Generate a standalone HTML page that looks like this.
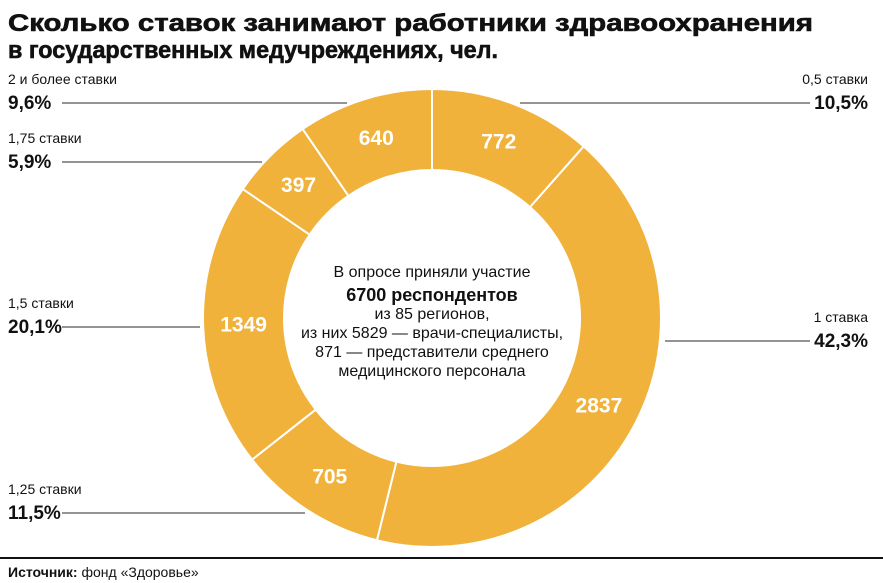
<!DOCTYPE html>
<html><head><meta charset="utf-8"><style>
body{margin:0;background:#fff}
svg{display:block;font-family:"Liberation Sans","DejaVu Sans",sans-serif}
</style></head><body>
<svg id="chart" width="883" height="583" viewBox="0 0 883 583">
<text x="8" y="31" font-size="24" font-weight="bold" fill="#111" stroke="#111" stroke-width="0.6" textLength="805" lengthAdjust="spacingAndGlyphs">Сколько ставок занимают работники здравоохранения</text>
<text x="8" y="58" font-size="24" font-weight="bold" fill="#111" stroke="#111" stroke-width="0.6" textLength="490" lengthAdjust="spacingAndGlyphs">в государственных медучреждениях, чел.</text>
<g id="leaders"></g>
<g id="slices"></g>
<g id="vals"></g>
<g id="labels"></g>
<g font-size="16" fill="#111" text-anchor="middle">
<text x="432" y="277">В опросе приняли участие</text>
<text x="432" y="301" font-size="18" font-weight="bold">6700 респондентов</text>
<text x="432" y="319">из 85 регионов,</text>
<text x="432" y="338">из них 5829 — врачи-специалисты,</text>
<text x="432" y="357">871 — представители среднего</text>
<text x="432" y="376">медицинского персонала</text>
</g>
<line x1="0" y1="558" x2="883" y2="558" stroke="#111" stroke-width="2"/>
<text x="8" y="577" font-size="14" fill="#111"><tspan font-weight="bold">Источник:</tspan> фонд «Здоровье»</text>
</svg>
<script>
const categories=["0,5 ставки","1 ставка","1,25 ставки","1,5 ставки","1,75 ставки","2 и более ставки"];
const values=[772,2837,705,1349,397,640];
const percents=["10,5%","42,3%","11,5%","20,1%","5,9%","9,6%"];
const NS="http://www.w3.org/2000/svg";
const cx=432,cy=318,R=229,r=148;
const total=values.reduce((a,b)=>a+b,0);
function pt(a,rad){return [cx+rad*Math.sin(a),cy-rad*Math.cos(a)];}
const slices=document.getElementById('slices'),vals=document.getElementById('vals');
let acc=0;
values.forEach((v,i)=>{
  const a0=acc/total*2*Math.PI;acc+=v;const a1=acc/total*2*Math.PI;
  const large=(a1-a0)>Math.PI?1:0;
  const [x0,y0]=pt(a0,R),[x1,y1]=pt(a1,R),[x2,y2]=pt(a1,r),[x3,y3]=pt(a0,r);
  const p=document.createElementNS(NS,'path');
  p.setAttribute('d',`M${x0},${y0}A${R},${R} 0 ${large} 1 ${x1},${y1}L${x2},${y2}A${r},${r} 0 ${large} 0 ${x3},${y3}Z`);
  p.setAttribute('fill','#f0b23b');p.setAttribute('stroke','#fff');p.setAttribute('stroke-width','2');
  
  
  slices.appendChild(p);
  const am=(a0+a1)/2;
  const [tx,ty]=pt(am,(R+r)/2);
  const t=document.createElementNS(NS,'text');
  t.setAttribute('x',tx);t.setAttribute('y',ty+7);t.setAttribute('text-anchor','middle');
  t.setAttribute('font-size','21');t.setAttribute('font-weight','bold');t.setAttribute('fill','#fff');
  t.textContent=v;
  
  
  vals.appendChild(t);
});
const side=[1,1,-1,-1,-1,-1];
const ly=[104,342,514,328,163,104];
const lineEnd=[520,665,305,200,262,347];
const labels=document.getElementById('labels'),leaders=document.getElementById('leaders');
categories.forEach((c,i)=>{
  const right=side[i]>0;
  const x=right?868:8;
  const t1=document.createElementNS(NS,'text');
  t1.setAttribute('x',x);t1.setAttribute('y',ly[i]-20);t1.setAttribute('font-size','14');t1.setAttribute('fill','#111');
  if(right)t1.setAttribute('text-anchor','end');
  t1.textContent=c;
  
  
  labels.appendChild(t1);
  const t2=document.createElementNS(NS,'text');
  t2.setAttribute('x',x);t2.setAttribute('y',ly[i]+5);t2.setAttribute('font-size','19');t2.setAttribute('font-weight','bold');t2.setAttribute('fill','#111');
  if(right)t2.setAttribute('text-anchor','end');
  t2.textContent=percents[i];
  
  
  labels.appendChild(t2);
  const l=document.createElementNS(NS,'line');
  l.setAttribute('x1',right?lineEnd[i]:62);l.setAttribute('x2',right?810:lineEnd[i]);
  l.setAttribute('y1',ly[i]-1);l.setAttribute('y2',ly[i]-1);
  l.setAttribute('stroke','#555');l.setAttribute('stroke-width','1.2');
  
  
  leaders.appendChild(l);
});
</script>
</body></html>
